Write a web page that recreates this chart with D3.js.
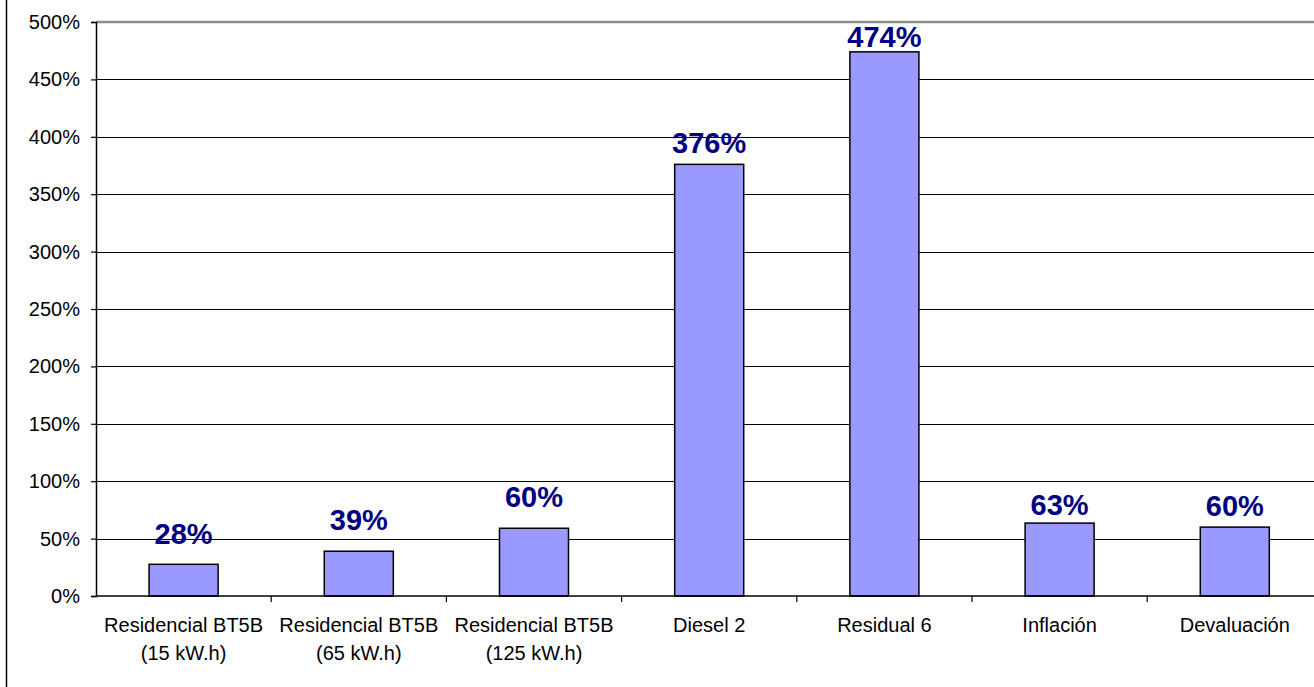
<!DOCTYPE html>
<html>
<head>
<meta charset="utf-8">
<script src="https://cdn.jsdelivr.net/npm/d3@7"></script>
<style>
  html, body { margin: 0; padding: 0; background: #fff; overflow: hidden; }
  svg { display: block; font-family: Arial, "Liberation Sans", sans-serif; }
</style>
</head>
<body>
<svg id="chart" width="1314" height="687"></svg>
<script>
const categories = [
  ["Residencial BT5B", "(15 kW.h)"],
  ["Residencial BT5B", "(65 kW.h)"],
  ["Residencial BT5B", "(125 kW.h)"],
  ["Diesel 2"],
  ["Residual 6"],
  ["Inflación"],
  ["Devaluación"]
];
const values = [27.6, 39, 59, 376, 474, 63.5, 60];
const valueLabels = ["28%", "39%", "60%", "376%", "474%", "63%", "60%"];
const yTicks = [0, 50, 100, 150, 200, 250, 300, 350, 400, 450, 500];

(function () {
// layout / style settings (label nudges as placed in the original)
const labelGap = [20, 21, 21, 11.7, 4.4, 7.7, 10.7];
const svg = d3.select("#chart");
const W = 1314, H = 687;
const mLeft = 96, mRight = 1322.4, mTop = 22, mBottom = 596;

svg.append("line").attr("x1", 6.5).attr("x2", 6.5).attr("y1", 0).attr("y2", H)
  .attr("stroke", "#000").attr("stroke-width", 1.5);

const idx = d3.range(categories.length);
const x = d3.scaleBand().domain(idx).range([mLeft, mRight]).padding(0);
const y = d3.scaleLinear().domain([0, 500]).range([mBottom, mTop]);

svg.append("g").selectAll("line").data(yTicks.filter(t => t > 0 && t < 500)).join("line")
  .attr("x1", mLeft).attr("x2", mRight)
  .attr("y1", d => Math.round(y(d)) + 0.5).attr("y2", d => Math.round(y(d)) + 0.5)
  .attr("stroke", "#000").attr("stroke-width", 1);

svg.append("line").attr("x1", mLeft).attr("x2", mRight)
  .attr("y1", y(500)).attr("y2", y(500))
  .attr("stroke", "#8c8c8c").attr("stroke-width", 2.5);

const bw = x.bandwidth() * 0.394;
svg.append("g").selectAll("rect").data(values).join("rect")
  .attr("x", (d, i) => x(i) + (x.bandwidth() - bw) / 2)
  .attr("y", d => y(d))
  .attr("width", bw)
  .attr("height", d => y(0) - y(d))
  .attr("fill", "#9999ff")
  .attr("stroke", "#000")
  .attr("stroke-width", 1.5);

const yAxis = d3.axisLeft(y).tickValues(yTicks).tickSize(5).tickPadding(11)
  .tickFormat(d => d + "%");
const gy = svg.append("g").attr("transform", `translate(${mLeft},0)`).call(yAxis);
gy.select(".domain").attr("stroke", "#000").attr("stroke-width", 1.5);
gy.selectAll(".tick line").attr("stroke", "#000").attr("stroke-width", 1.2);
gy.selectAll(".tick text").attr("font-size", 20).attr("fill", "#000")
  .attr("font-family", "Arial, 'Liberation Sans', sans-serif");

svg.append("line").attr("x1", mLeft).attr("x2", mRight)
  .attr("y1", y(0)).attr("y2", y(0)).attr("stroke", "#000").attr("stroke-width", 1.5);
svg.append("g").selectAll("line").data(idx.slice(1)).join("line")
  .attr("x1", d => x(d)).attr("x2", d => x(d))
  .attr("y1", y(0)).attr("y2", y(0) + 6)
  .attr("stroke", "#000").attr("stroke-width", 1.2);

const cl = svg.append("g").selectAll("text").data(categories).join("text")
  .attr("x", (d, i) => x(i) + x.bandwidth() / 2)
  .attr("y", 632)
  .attr("text-anchor", "middle")
  .attr("font-size", 20)
  .attr("fill", "#000");
cl.each(function (d) {
  const t = d3.select(this);
  d.forEach((line, j) => {
    t.append("tspan").attr("x", t.attr("x")).attr("dy", j === 0 ? 0 : 28).text(line);
  });
});

svg.append("g").selectAll("text").data(values).join("text")
  .attr("x", (d, i) => x(i) + x.bandwidth() / 2)
  .attr("y", (d, i) => y(d) - labelGap[i])
  .attr("text-anchor", "middle")
  .attr("font-size", 29)
  .attr("font-weight", "bold")
  .attr("fill", "#000080")
  .text((d, i) => valueLabels[i]);
})();
</script>
</body>
</html>
